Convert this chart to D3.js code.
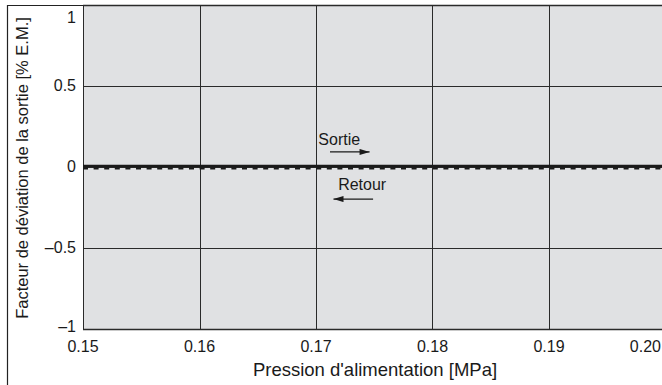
<!DOCTYPE html>
<html>
<head>
<meta charset="utf-8">
<script src="https://cdn.jsdelivr.net/npm/d3@7"></script>
<style>
  html, body { margin: 0; padding: 0; background: #fff; }
  svg { display: block; font-family: "Liberation Sans", Arial, sans-serif; }
</style>
</head>
<body>
<svg id="chart" width="662" height="385"></svg>
<script>
// Supply-pressure axis (MPa) and deviation axis (% F.S.)
const xTicks = [0.15, 0.16, 0.17, 0.18, 0.19, 0.20];
const xTickLabels = ["0.15", "0.16", "0.17", "0.18", "0.19", "0.20"];
const yTicks = [-1, -0.5, 0, 0.5, 1];
const yTickLabels = ["–1", "–0.5", "0", "0.5", "1"];

// Output deviation, forward (Sortie) and return (Retour) strokes
const pressure = [0.15, 0.20];
const sortieValues = [0.006, 0.006];
const retourValues = [-0.009, -0.009];

// Annotation positions in data units
const sortieLabel = { x: 0.1702, y: 0.175, text: "Sortie" };
const sortieArrow = { x1: 0.1712, x2: 0.1746, y: 0.093 };
const retourLabel = { x: 0.1719, y: -0.108, text: "Retour" };
const retourArrow = { x1: 0.1749, x2: 0.1715, y: -0.198 };

const svg = d3.select("#chart");
const W = 662, H = 385;
const plot = { left: 83, right: 665.5, top: 5, bottom: 329 };

const x = d3.scaleLinear().domain([0.15, 0.20]).range([plot.left, plot.right]);
const y = d3.scaleLinear().domain([-1, 1]).range([plot.bottom, plot.top]);

// Outer frame
svg.append("path")
  .attr("d", `M7.5,${H + 2} V5.5 H${W + 2}`)
  .attr("fill", "none").attr("stroke", "#222").attr("stroke-width", 1.2);

// Plot background
svg.append("rect")
  .attr("x", plot.left).attr("y", plot.top)
  .attr("width", plot.right - plot.left).attr("height", plot.bottom - plot.top)
  .attr("fill", "#e0e1e3");

// Vertical grid lines
svg.append("g")
  .selectAll("line").data(xTicks).join("line")
  .attr("x1", d => Math.round(x(d)) + 0.5).attr("x2", d => Math.round(x(d)) + 0.5)
  .attr("y1", plot.top).attr("y2", plot.bottom)
  .attr("stroke", "#2a2a2a").attr("stroke-width", 1);

// Horizontal grid lines
svg.append("g")
  .selectAll("line").data(yTicks).join("line")
  .attr("x1", plot.left).attr("x2", plot.right)
  .attr("y1", d => Math.round(y(d)) + 0.5).attr("y2", d => Math.round(y(d)) + 0.5)
  .attr("stroke", "#2a2a2a").attr("stroke-width", d => (d === -1 || d === 1) ? 1.4 : 1);

// Axis tick labels
const xLab = svg.append("g").attr("font-size", 16).attr("fill", "#1a1a1a");
xLab.selectAll("text").data(xTicks).join("text")
  .attr("x", (d, i) => i === xTicks.length - 1 ? W - 1 : x(d))
  .attr("y", 352)
  .attr("text-anchor", (d, i) => i === xTicks.length - 1 ? "end" : "middle")
  .text((d, i) => xTickLabels[i]);

const yLab = svg.append("g").attr("font-size", 16).attr("fill", "#1a1a1a");
yLab.selectAll("text").data(yTicks).join("text")
  .attr("x", 76)
  .attr("y", d => d === 1 ? y(d) + 18 : (d === -1 ? y(d) + 3 : y(d) + 5))
  .attr("text-anchor", "end")
  .text((d, i) => yTickLabels[i]);

// Axis titles
svg.append("text")
  .attr("x", 375).attr("y", 376)
  .attr("text-anchor", "middle").attr("font-size", 18.5).attr("fill", "#1a1a1a")
  .text("Pression d'alimentation [MPa]");

svg.append("text")
  .attr("transform", `translate(28,${(plot.top + plot.bottom) / 2 + 1}) rotate(-90)`)
  .attr("text-anchor", "middle").attr("font-size", 16.5).attr("fill", "#1a1a1a")
  .text("Facteur de déviation de la sortie [% E.M.]");

// Series lines
const line = d3.line().x(d => x(d[0])).y(d => y(d[1]));
svg.append("path")
  .datum(pressure.map((p, i) => [p, sortieValues[i]]))
  .attr("d", line).attr("fill", "none")
  .attr("stroke", "#1a1a1a").attr("stroke-width", 2.4);
svg.append("path")
  .datum(pressure.map((p, i) => [p, retourValues[i]]))
  .attr("d", line).attr("fill", "none")
  .attr("stroke", "#1a1a1a").attr("stroke-width", 2.2)
  .attr("stroke-dasharray", "5,5.6");

// Direction annotations
const defs = svg.append("defs");
defs.append("marker")
  .attr("id", "arrow").attr("viewBox", "0 0 10 6")
  .attr("refX", 10).attr("refY", 3)
  .attr("markerWidth", 11).attr("markerHeight", 6)
  .attr("markerUnits", "userSpaceOnUse")
  .attr("orient", "auto")
  .append("path").attr("d", "M0,0 L10,3 L0,6 Z").attr("fill", "#1a1a1a");

const ann = svg.append("g");
[sortieLabel, retourLabel].forEach(l => {
  ann.append("text")
    .attr("x", x(l.x)).attr("y", y(l.y) + 6)
    .attr("font-size", 16).attr("fill", "#1a1a1a")
    .text(l.text);
});
[sortieArrow, retourArrow].forEach(a => {
  ann.append("line")
    .attr("x1", x(a.x1)).attr("x2", x(a.x2))
    .attr("y1", y(a.y)).attr("y2", y(a.y))
    .attr("stroke", "#1a1a1a").attr("stroke-width", 1.3)
    .attr("marker-end", "url(#arrow)");
});
</script>
</body>
</html>
